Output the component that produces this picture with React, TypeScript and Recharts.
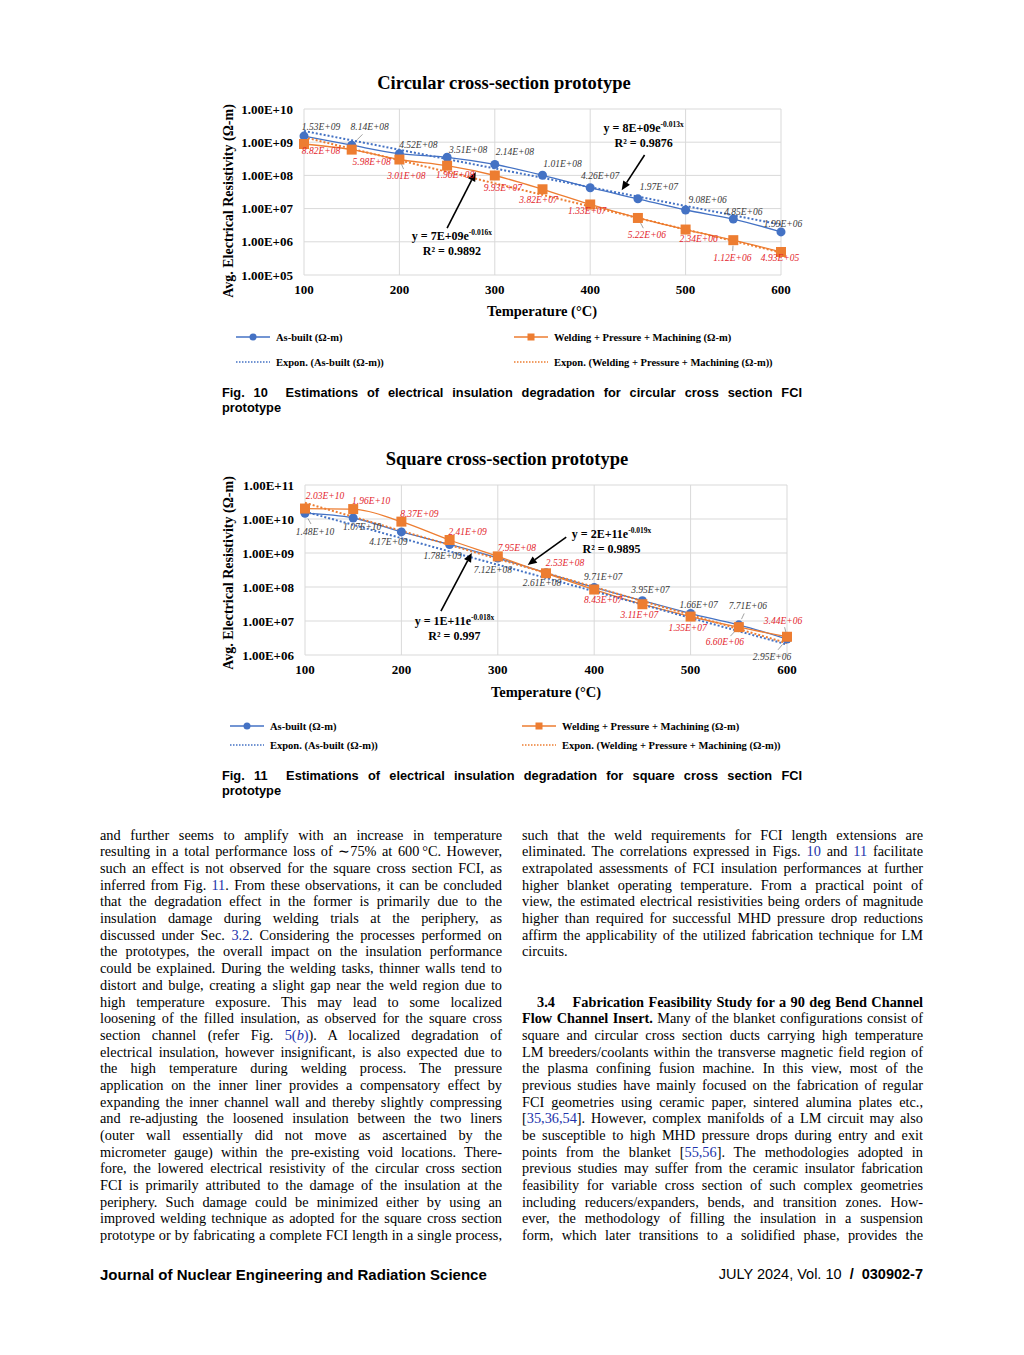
import React from "react";
import {
  LineChart,
  Line,
  XAxis,
  YAxis,
  CartesianGrid,
  LabelList,
  ReferenceDot,
  ReferenceLine,
} from "recharts";

const SERIF = '"Liberation Serif", "Times New Roman", serif';
const SANS = '"Liberation Sans", Arial, sans-serif';
const BLUE = "#4472C4";
const ORANGE = "#ED7D31";
const RED_LBL = "#E3262D";
const GREY_LBL = "#3a3a3a";
const LINK = "#2233aa";

// temperatures (°C)
const temps = [100, 150, 200, 250, 300, 350, 400, 450, 500, 550, 600];
const tempTicks = [100, 200, 300, 400, 500, 600];

// Fig. 10 — circular cross section
const circAsBuilt = [1.53e9, 8.14e8, 4.52e8, 3.51e8, 2.14e8, 1.01e8, 4.26e7, 1.97e7, 9.08e6, 4.85e6, 1.99e6];
const circWelded = [8.82e8, 5.98e8, 3.01e8, 1.96e8, 9.93e7, 3.82e7, 1.33e7, 5.22e6, 2.34e6, 1.12e6, 4.93e5];
const circAsBuiltFit = [2.18e9, 1.14e9, 5.94e8, 3.1e8, 1.62e8, 8.45e7, 4.41e7, 2.3e7, 1.2e7, 6.28e6, 3.28e6];
const circWeldedFit = [1.41e9, 6.35e8, 2.85e8, 1.28e8, 5.76e7, 2.59e7, 1.16e7, 5.23e6, 2.35e6, 1.06e6, 4.74e5];
const circTicks = [1e5, 1e6, 1e7, 1e8, 1e9, 1e10];

// Fig. 11 — square cross section
const sqAsBuilt = [1.48e10, 1.07e10, 4.17e9, 1.78e9, 7.12e8, 2.61e8, 9.71e7, 3.95e7, 1.66e7, 7.71e6, 2.95e6];
const sqWelded = [2.03e10, 1.96e10, 8.37e9, 2.41e9, 7.95e8, 2.53e8, 8.43e7, 3.11e7, 1.35e7, 6.6e6, 3.44e6];
const sqAsBuiltFit = [1.65e10, 6.72e9, 2.73e9, 1.11e9, 4.52e8, 1.84e8, 7.47e7, 3.04e7, 1.23e7, 5.02e6, 2.04e6];
const sqWeldedFit = [2.99e10, 1.16e10, 4.47e9, 1.73e9, 6.69e8, 2.59e8, 1.0e8, 3.87e7, 1.5e7, 5.79e6, 2.24e6];
const sqTicks = [1e6, 1e7, 1e8, 1e9, 1e10, 1e11];

// data-label nudges (px, relative to each point) and which ones get a leader line
const circAsBuiltLabelPos = [[17, -9], [18, -18], [19, -9], [21, -8], [20, -13], [20, -12], [10, -12], [21, -12], [22, -10], [10, -7], [2, -8]];
const circAsBuiltLeaders = [1];
const circWeldedLabelPos = [[17, 7], [20, 12], [7, 16], [8, 9], [8, 12], [-4, 10], [-3, 6], [9, 17], [13, 9], [-1, 18], [-1, 6]];
const circWeldedLeaders = [2, 7, 9];
const sqAsBuiltLabelPos = [[10, 18], [9, 9], [-13, 10], [-7, 11], [-5, 12], [-4, 10], [9, -11], [8, -11], [8, -9], [9, -19], [-15, 18]];
const sqAsBuiltLeaders = [0, 9, 10];
const sqWeldedLabelPos = [[20, -13], [18, -8], [18, -8], [18, -8], [19, -9], [19, -11], [9, 10], [-3, 10], [-3, 11], [-14, 15], [-4, -16]];
const sqWeldedLeaders = [9, 10];

// trendline equations and arrows (in data units)
const circNotes = [
  { x: 255, y: 1.13e6, eq: "y = 7E+09e", exp: "-0.016x", r2: "R² = 0.9892" },
  { x: 456, y: 2.03e9, eq: "y = 8E+09e", exp: "-0.013x", r2: "R² = 0.9876" },
];
const circArrows = [
  { from: [250, 2.6e6], to: [280, 1.26e8] },
  { from: [457, 4.1e8], to: [433, 3.6e7] },
];
const sqNotes = [
  { x: 255, y: 7.6e6, eq: "y = 1E+11e", exp: "-0.018x", r2: "R² = 0.997" },
  { x: 418, y: 2.75e9, eq: "y = 2E+11e", exp: "-0.019x", r2: "R² = 0.9895" },
];
const sqArrows = [
  { from: [241, 1.95e7], to: [273, 1e9] },
  { from: [371, 2.95e9], to: [331, 4.47e8] },
];

const leftLines = [
  "and further seems to amplify with an increase in temperature",
  "resulting in a total performance loss of \u223c75% at 600\u2009°C. However,",
  "such an effect is not observed for the square cross section FCI, as",
  "inferred from Fig. {11}. From these observations, it can be concluded",
  "that the degradation effect in the former is primarily due to the",
  "insulation damage during welding trials at the periphery, as",
  "discussed under Sec. {3.2}. Considering the processes performed on",
  "the prototypes, the overall impact on the insulation performance",
  "could be explained. During the welding tasks, thinner walls tend to",
  "distort and bulge, creating a slight gap near the weld region due to",
  "high temperature exposure. This may lead to some localized",
  "loosening of the filled insulation, as observed for the square cross",
  "section channel (refer Fig. {5(b)}). A localized degradation of",
  "electrical insulation, however insignificant, is also expected due to",
  "the high temperature during welding process. The pressure",
  "application on the inner liner provides a compensatory effect by",
  "expanding the inner channel wall and thereby slightly compressing",
  "and re-adjusting the loosened insulation between the two liners",
  "(outer wall essentially did not move as ascertained by the",
  "micrometer gauge) within the pre-existing void locations. There-",
  "fore, the lowered electrical resistivity of the circular cross section",
  "FCI is primarily attributed to the damage of the insulation at the",
  "periphery. Such damage could be minimized either by using an",
  "improved welding technique as adopted for the square cross section",
  "prototype or by fabricating a complete FCI length in a single process,",
];

const rightTop = [
  "such that the weld requirements for FCI length extensions are",
  "eliminated. The correlations expressed in Figs. {10} and {11} facilitate",
  "extrapolated assessments of FCI insulation performances at further",
  "higher blanket operating temperature. From a practical point of",
  "view, the estimated electrical resistivities being orders of magnitude",
  "higher than required for successful MHD pressure drop reductions",
  "affirm the applicability of the utilized fabrication technique for LM",
];

const rightBottom = [
  "square and circular cross section ducts carrying high temperature",
  "LM breeders/coolants within the transverse magnetic field region of",
  "the plasma confining fusion machine. In this view, most of the",
  "previous studies have mainly focused on the fabrication of regular",
  "FCI geometries using ceramic paper, sintered alumina plates etc.,",
  "[{35,36,54}]. However, complex manifolds of a LM circuit may also",
  "be susceptible to high MHD pressure drops during entry and exit",
  "points from the blanket [{55,56}]. The methodologies adopted in",
  "previous studies may suffer from the ceramic insulator fabrication",
  "feasibility for variable cross section of such complex geometries",
  "including reducers/expanders, bends, and transition zones. How-",
  "ever, the methodology of filling the insulation in a suspension",
  "form, which later transitions to a solidified phase, provides the",
];

const fmtSci = (v: number) => {
  const [m, e] = v.toExponential(2).split("e");
  const sign = e[0] === "-" ? "-" : "+";
  const d = e.replace(/[+-]/, "").padStart(2, "0");
  return `${m}E${sign}${d}`;
};

const makeLabel = (offs: number[][], color: string, leaders: number[]) => (p: any) => {
  const x = p.x ?? p.viewBox?.x;
  const y = p.y ?? p.viewBox?.y;
  const i = p.index;
  if (x == null || y == null || p.value == null || offs[i] == null) return null;
  const [dx, dy] = offs[i];
  return (
    <g key={`lbl-${i}`}>
      {leaders.includes(i) ? (
        <line x1={x + dx * 0.3} y1={y + dy * 0.3} x2={x + dx * 0.6} y2={y + dy * 0.6} stroke="#8a8a8a" strokeWidth={0.8} />
      ) : null}
      <text x={x + dx} y={y + dy} dy="0.35em" textAnchor="middle" fontFamily={SERIF} fontStyle="italic" fontSize={9.5} fill={color}>
        {fmtSci(Number(p.value))}
      </text>
    </g>
  );
};

const squareDot = (p: any) => {
  if (p.cx == null || p.cy == null) return <g key={`sq-${p.index}`} />;
  return <rect key={`sq-${p.index}`} x={p.cx - 5} y={p.cy - 5} width={10} height={10} fill={ORANGE} />;
};

const noteShape = (n: any) => (p: any) => {
  const { cx, cy } = p;
  if (cx == null) return <g />;
  return (
    <g fontFamily={SERIF} fontWeight="bold" fill="#000">
      <text x={cx} y={cy} textAnchor="middle" fontSize={12}>
        {n.eq}
        <tspan dy={-5} fontSize={7.5}>{n.exp}</tspan>
      </text>
      <text x={cx} y={cy + 15} textAnchor="middle" fontSize={12}>
        {n.r2}
      </text>
    </g>
  );
};

const arrowShape = (p: any) => {
  const { x1, y1, x2, y2 } = p;
  if (x1 == null || x2 == null) return <g />;
  const ang = Math.atan2(y2 - y1, x2 - x1);
  const L = 9, W = 4;
  const bx = x2 - L * Math.cos(ang), by = y2 - L * Math.sin(ang);
  const px = -Math.sin(ang) * W, py = Math.cos(ang) * W;
  return (
    <g>
      <line x1={x1} y1={y1} x2={bx} y2={by} stroke="#000" strokeWidth={1.6} />
      <polygon points={`${x2},${y2} ${bx + px},${by + py} ${bx - px},${by - py}`} fill="#000" />
    </g>
  );
};

function ResistivityChart(props: {
  asBuilt: number[];
  welded: number[];
  asBuiltFit: number[];
  weldedFit: number[];
  yTicks: number[];
  abPos: number[][];
  abLead: number[];
  wPos: number[][];
  wLead: number[];
  notes: any[];
  arrows: any[];
  width: number;
  height: number;
  margin: any;
  yWidth: number;
}) {
  const rows = temps.map((t, i) => ({
    t,
    ab: props.asBuilt[i],
    w: props.welded[i],
    abf: props.asBuiltFit[i],
    wf: props.weldedFit[i],
  }));
  const tickStyle = { fontFamily: SERIF, fontWeight: "bold", fontSize: 13, fill: "#000" };
  const yt = props.yTicks;
  return (
    <LineChart width={props.width} height={props.height} data={rows} margin={props.margin}>
      <CartesianGrid stroke="#d9d9d9" strokeWidth={1} />
      <XAxis
        dataKey="t"
        type="number"
        domain={[100, 600]}
        ticks={tempTicks}
        axisLine={false}
        tickLine={false}
        tickSize={0}
        tickMargin={10}
        height={50}
        tick={tickStyle}
      />
      <YAxis
        scale="log"
        domain={[yt[0], yt[yt.length - 1]]}
        ticks={yt}
        allowDataOverflow
        axisLine={false}
        tickLine={false}
        tickSize={0}
        tickMargin={11}
        width={props.yWidth}
        tick={tickStyle}
        tickFormatter={(v: number) => fmtSci(v)}
      />
      <Line
        type="monotone"
        dataKey="ab"
        stroke={BLUE}
        strokeWidth={1.3}
        dot={{ r: 4.5, fill: BLUE, stroke: BLUE, strokeWidth: 0 }}
        isAnimationActive={false}
      >
        <LabelList dataKey="ab" content={makeLabel(props.abPos, GREY_LBL, props.abLead)} />
      </Line>
      <Line
        type="monotone"
        dataKey="w"
        stroke={ORANGE}
        strokeWidth={1.3}
        dot={squareDot}
        isAnimationActive={false}
      >
        <LabelList dataKey="w" content={makeLabel(props.wPos, RED_LBL, props.wLead)} />
      </Line>
      <Line
        type="linear"
        dataKey="abf"
        stroke={BLUE}
        strokeWidth={2}
        strokeDasharray="2 2"
        dot={false}
        isAnimationActive={false}
      />
      <Line
        type="linear"
        dataKey="wf"
        stroke={ORANGE}
        strokeWidth={2}
        strokeDasharray="2 2"
        dot={false}
        isAnimationActive={false}
      />
      {props.arrows.map((a, i) => (
        <ReferenceLine
          key={`ar-${i}`}
          segment={[{ x: a.from[0], y: a.from[1] }, { x: a.to[0], y: a.to[1] }]}
          shape={arrowShape}
        />
      ))}
      {props.notes.map((n, i) => (
        <ReferenceDot key={`nt-${i}`} x={n.x} y={n.y} r={0} shape={noteShape(n)} />
      ))}
    </LineChart>
  );
}

const Centered = ({ x, y, style, children, rotate }: any) => (
  <div
    style={{
      position: "absolute",
      left: x,
      top: y,
      transform: `translate(-50%, -50%)${rotate ? " rotate(-90deg)" : ""}`,
      whiteSpace: "nowrap",
      ...style,
    }}
  >
    {children}
  </div>
);

const legendText = { fontFamily: SERIF, fontWeight: "bold", fontSize: 10.5, color: "#000" };

const LegendItem = ({ x, y, color, kind, label }: any) => (
  <div style={{ position: "absolute", left: x, top: y - 7, height: 14, display: "flex", alignItems: "center", whiteSpace: "nowrap" }}>
    <svg width={36} height={12} style={{ marginRight: 4 }}>
      {kind === "fit" ? (
        <line x1={0} y1={6} x2={34} y2={6} stroke={color} strokeWidth={1.6} strokeDasharray="1.5 1.5" />
      ) : (
        <line x1={0} y1={6} x2={34} y2={6} stroke={color} strokeWidth={1.3} />
      )}
      {kind === "dot" ? <circle cx={17} cy={6} r={3.5} fill={color} /> : null}
      {kind === "sq" ? <rect x={13.5} y={2.5} width={7} height={7} fill={color} /> : null}
    </svg>
    <span style={legendText}>{label}</span>
  </div>
);

const renderSegments = (s: string) =>
  s.split(/(\{[^}]*\})/).map((seg, i) => {
    if (seg.startsWith("{")) {
      const t = seg.slice(1, -1);
      if (t === "5(b)")
        return (
          <span key={i} style={{ color: LINK }}>
            5(<i>b</i>)
          </span>
        );
      return (
        <span key={i} style={{ color: LINK }}>
          {t}
        </span>
      );
    }
    return <React.Fragment key={i}>{seg}</React.Fragment>;
  });

const LH = 16.7;
const bodyStyle = { fontFamily: SERIF, fontSize: 14.3, color: "#000" };

const TextLine = ({ children, justify = true, style }: any) => (
  <div
    style={{
      height: LH,
      lineHeight: `${LH}px`,
      whiteSpace: "nowrap",
      textAlign: justify ? "justify" : "left",
      textAlignLast: justify ? "justify" : "left",
      ...style,
    }}
  >
    {children}
  </div>
);

const capStyle = { fontFamily: SANS, fontWeight: "bold", fontSize: 12.8, color: "#000", lineHeight: "15px" };

export default function App() {
  return (
    <div style={{ position: "absolute", left: 0, top: 0, width: 1024, height: 1355, background: "#fff", overflow: "hidden" }}>
      {/* Fig. 10 */}
      <Centered x={504} y={83} style={{ fontFamily: SERIF, fontWeight: "bold", fontSize: 18.5 }}>
        Circular cross-section prototype
      </Centered>
      <Centered x={229} y={201} rotate style={{ fontFamily: SERIF, fontWeight: "bold", fontSize: 14 }}>
        Avg. Electrical Resistivity (Ω-m)
      </Centered>
      <div style={{ position: "absolute", left: 220, top: 60 }}>
        <ResistivityChart
          asBuilt={circAsBuilt}
          welded={circWelded}
          asBuiltFit={circAsBuiltFit}
          weldedFit={circWeldedFit}
          yTicks={circTicks}
          abPos={circAsBuiltLabelPos}
          abLead={circAsBuiltLeaders}
          wPos={circWeldedLabelPos}
          wLead={circWeldedLeaders}
          notes={circNotes}
          arrows={circArrows}
          width={600}
          height={265}
          margin={{ top: 49, right: 39, bottom: 0, left: 0 }}
          yWidth={84}
        />
      </div>
      <Centered x={542} y={311} style={{ fontFamily: SERIF, fontWeight: "bold", fontSize: 14.5 }}>
        Temperature (°C)
      </Centered>
      <LegendItem x={236} y={337} color={BLUE} kind="dot" label="As-built (Ω-m)" />
      <LegendItem x={514} y={337} color={ORANGE} kind="sq" label="Welding + Pressure + Machining (Ω-m)" />
      <LegendItem x={236} y={362} color={BLUE} kind="fit" label="Expon. (As-built (Ω-m))" />
      <LegendItem x={514} y={362} color={ORANGE} kind="fit" label="Expon. (Welding + Pressure + Machining (Ω-m))" />
      <div style={{ position: "absolute", left: 222, top: 385, width: 580, ...capStyle }}>
        <div style={{ textAlign: "justify", textAlignLast: "justify", whiteSpace: "nowrap" }}>
          Fig. 10&nbsp;&nbsp;Estimations of electrical insulation degradation for circular cross section FCI
        </div>
        <div>prototype</div>
      </div>

      {/* Fig. 11 */}
      <Centered x={507} y={459} style={{ fontFamily: SERIF, fontWeight: "bold", fontSize: 18.5 }}>
        Square cross-section prototype
      </Centered>
      <Centered x={229} y={573} rotate style={{ fontFamily: SERIF, fontWeight: "bold", fontSize: 14 }}>
        Avg. Electrical Resistivity (Ω-m)
      </Centered>
      <div style={{ position: "absolute", left: 220, top: 436 }}>
        <ResistivityChart
          asBuilt={sqAsBuilt}
          welded={sqWelded}
          asBuiltFit={sqAsBuiltFit}
          weldedFit={sqWeldedFit}
          yTicks={sqTicks}
          abPos={sqAsBuiltLabelPos}
          abLead={sqAsBuiltLeaders}
          wPos={sqWeldedLabelPos}
          wLead={sqWeldedLeaders}
          notes={sqNotes}
          arrows={sqArrows}
          width={600}
          height={269}
          margin={{ top: 49, right: 33, bottom: 0, left: 0 }}
          yWidth={85}
        />
      </div>
      <Centered x={546} y={692} style={{ fontFamily: SERIF, fontWeight: "bold", fontSize: 14.5 }}>
        Temperature (°C)
      </Centered>
      <LegendItem x={230} y={726} color={BLUE} kind="dot" label="As-built (Ω-m)" />
      <LegendItem x={522} y={726} color={ORANGE} kind="sq" label="Welding + Pressure + Machining (Ω-m)" />
      <LegendItem x={230} y={745} color={BLUE} kind="fit" label="Expon. (As-built (Ω-m))" />
      <LegendItem x={522} y={745} color={ORANGE} kind="fit" label="Expon. (Welding + Pressure + Machining (Ω-m))" />
      <div style={{ position: "absolute", left: 222, top: 768, width: 580, ...capStyle }}>
        <div style={{ textAlign: "justify", textAlignLast: "justify", whiteSpace: "nowrap" }}>
          Fig. 11&nbsp;&nbsp;Estimations of electrical insulation degradation for square cross section FCI
        </div>
        <div>prototype</div>
      </div>

      {/* body text */}
      <div style={{ position: "absolute", left: 100, top: 835 - LH / 2, width: 402, ...bodyStyle }}>
        {leftLines.map((l, i) => (
          <TextLine key={i}>{renderSegments(l)}</TextLine>
        ))}
      </div>
      <div style={{ position: "absolute", left: 522, top: 835 - LH / 2, width: 401, ...bodyStyle }}>
        {rightTop.map((l, i) => (
          <TextLine key={i}>{renderSegments(l)}</TextLine>
        ))}
        <TextLine justify={false}>circuits.</TextLine>
        <TextLine justify={false}>{" "}</TextLine>
        <TextLine justify={false}>{" "}</TextLine>
        <TextLine style={{ fontWeight: "bold", paddingLeft: 15 }}>
          3.4&nbsp;&nbsp;&nbsp;&nbsp;Fabrication Feasibility Study for a 90 deg Bend Channel
        </TextLine>
        <TextLine>
          <b>Flow Channel Insert.</b> Many of the blanket configurations consist of
        </TextLine>
        {rightBottom.map((l, i) => (
          <TextLine key={i}>{renderSegments(l)}</TextLine>
        ))}
      </div>

      {/* running footer */}
      <div style={{ position: "absolute", left: 100, top: 1266, fontFamily: SANS, fontWeight: "bold", fontSize: 15, whiteSpace: "nowrap" }}>
        Journal of Nuclear Engineering and Radiation Science
      </div>
      <div style={{ position: "absolute", right: 1024 - 923, top: 1266, fontFamily: SANS, fontSize: 14.5, whiteSpace: "nowrap" }}>
        JULY 2024, Vol. 10&nbsp;&nbsp;<b>/</b>&nbsp;&nbsp;<b>030902-7</b>
      </div>
    </div>
  );
}
